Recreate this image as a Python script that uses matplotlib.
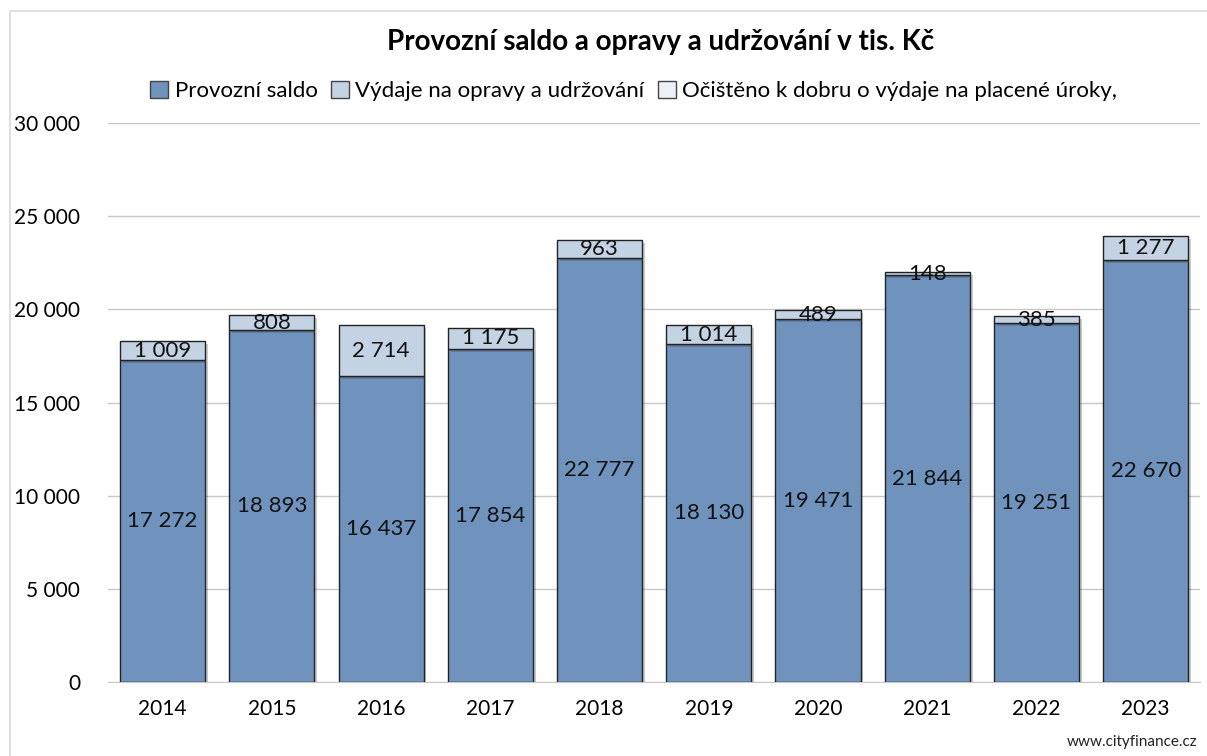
import matplotlib.pyplot as plt
import matplotlib.patheffects as pe
from matplotlib.patches import Rectangle, Patch

years = ['2014', '2015', '2016', '2017', '2018', '2019', '2020', '2021', '2022', '2023']
saldo = [17272, 18893, 16437, 17854, 22777, 18130, 19471, 21844, 19251, 22670]
opravy = [1009, 808, 2714, 1175, 963, 1014, 489, 148, 385, 1277]
yticks = [0, 5000, 10000, 15000, 20000, 25000, 30000]

plt.rcParams['font.family'] = ['Lato', 'DejaVu Sans']

def fmt(v):
    return f"{v:,}".replace(",", " ")

fig = plt.figure(figsize=(12.07, 7.56), dpi=100)
ax = fig.add_axes([0.0895, 0.098, 0.905, 0.739])

blue = '#7093be'
light = '#c4d3e4'
shadow = [pe.SimplePatchShadow(offset=(2, -2), alpha=0.25), pe.Normal()]

x = list(range(len(years)))
b1 = ax.bar(x, saldo, width=0.78, color=blue, edgecolor='#222222', linewidth=1.0, zorder=3)
b2 = ax.bar(x, opravy, width=0.78, bottom=saldo, color=light, edgecolor='#222222', linewidth=1.0, zorder=3)
for b in list(b1) + list(b2):
    b.set_path_effects(shadow)

for i in x:
    ax.text(i, saldo[i] / 2, fmt(saldo[i]), ha='center', va='center', fontsize=16, color='#111111', zorder=5)
    ax.text(i, saldo[i] + opravy[i] / 2, fmt(opravy[i]), ha='center', va='center', fontsize=16, color='#111111', zorder=5)

ax.set_xlim(-0.5, len(years) - 0.5)
ax.set_ylim(0, 30000)
ax.set_yticks(yticks)
ax.set_yticklabels([fmt(v) for v in yticks], fontsize=15)
ax.set_xticks(x)
ax.set_xticklabels(years, fontsize=15)
ax.tick_params(length=0, pad=12)
ax.tick_params(axis='y', pad=20)
ax.grid(axis='y', color='#c8c8c8', linewidth=1.0, zorder=0)
for s in ['top', 'right', 'left']:
    ax.spines[s].set_visible(False)
ax.spines['bottom'].set_color('#c8c8c8')

fig.text(0.547, 0.945, 'Provozní saldo a opravy a udržování v tis. Kč', ha='center', va='center',
         fontsize=20, fontweight='bold')
handles = [Patch(facecolor=blue, edgecolor='#444444'),
           Patch(facecolor=light, edgecolor='#444444'),
           Patch(facecolor='#edf1f6', edgecolor='#444444')]
labels = ['Provozní saldo', 'Výdaje na opravy a udržování', 'Očištěno k dobru o výdaje na placené úroky,']
fig.legend(handles, labels, loc='center', bbox_to_anchor=(0.525, 0.88), ncol=3, frameon=False,
           fontsize=16, handlelength=0.8, handleheight=0.8, handletextpad=0.3, columnspacing=0.6)

fig.text(0.992, 0.018, 'www.cityfinance.cz', ha='right', va='center', fontsize=11, color='#222222')

fig.patches.append(Rectangle((0.008, -0.1), 1.2, 1.085, transform=fig.transFigure, fill=False,
                             edgecolor='#d9d9d9', linewidth=1.2))

fig.savefig('out.png', dpi=100)
